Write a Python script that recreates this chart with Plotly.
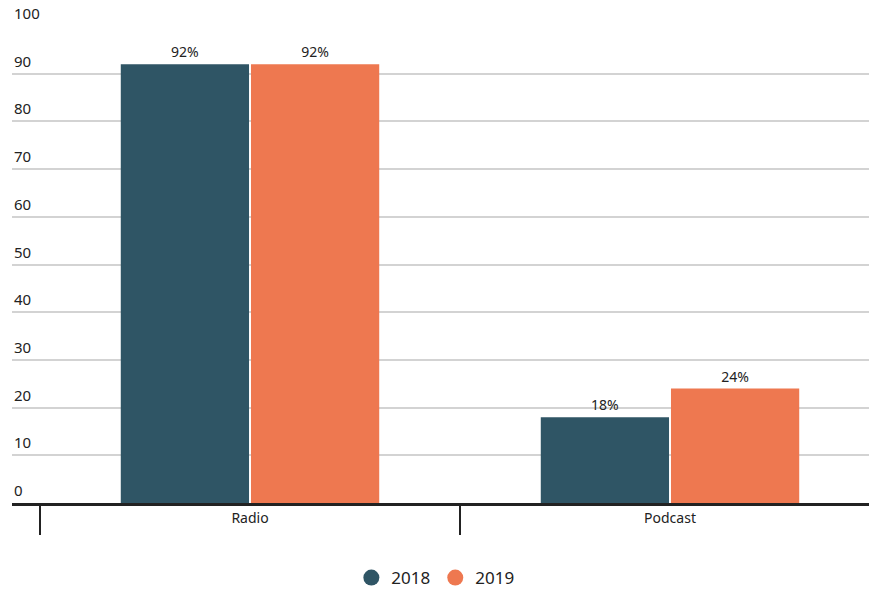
import plotly.graph_objects as go

categories = ["Radio", "Podcast"]
years = ["2018", "2019"]
values_2018 = [92, 18]
values_2019 = [92, 24]
colors = ["#2F5565", "#EE7850"]
y_ticks = [0, 10, 20, 30, 40, 50, 60, 70, 80, 90, 100]

FONT = "Noto Sans"
x_idx = list(range(len(categories)))

W, H = 869, 589
L, R, T, B = 12, 0, 26, 86
PH = H - T - B

fig = go.Figure()
for name, vals, col in zip(years, [values_2018, values_2019], colors):
    fig.add_trace(go.Bar(
        x=x_idx, y=vals, name=name, marker_color=col, marker_line_width=0,
        texttemplate="%{y}%", textposition="outside", cliponaxis=False,
        textfont=dict(family=FONT, size=14, color="#222222"),
        showlegend=False,
    ))
    fig.add_trace(go.Scatter(
        x=[None], y=[None], mode="markers", name=name,
        marker=dict(color=col, size=20, symbol="circle"),
    ))

# category divider ticks
for b in [-0.5, 0.5]:
    fig.add_shape(type="line", xref="x", yref="paper", x0=b, x1=b,
                  y0=0, y1=-32 / PH, line=dict(color="#222222", width=2))

# y tick labels placed above gridlines
for t in y_ticks:
    fig.add_annotation(x=0, xref="paper", xanchor="left", y=t, yref="y",
                       yanchor="bottom", yshift=1, text=str(t), showarrow=False,
                       font=dict(family=FONT, size=15, color="#222222"))

# x range so that category centres sit 420px apart
px_per_cat = 420.0
c0 = 250 - L  # Radio centre in plot coordinates
x_lo = -c0 / px_per_cat
x_hi = x_lo + (W - L - R) / px_per_cat

fig.update_layout(
    width=W, height=H,
    margin=dict(l=L, r=R, t=T, b=B, autoexpand=False),
    paper_bgcolor="white", plot_bgcolor="white",
    barmode="group", bargap=0.38, bargroupgap=0.015,
    font=dict(family=FONT, color="#222222"),
    legend=dict(orientation="h", x=0.494, xanchor="center", y=-75 / PH,
                yanchor="middle", font=dict(size=17, color="#222222"),
                itemsizing="trace"),
    xaxis=dict(range=[x_lo, x_hi], tickvals=x_idx, ticktext=categories,
               showgrid=False, zeroline=False, showline=True, automargin=False,
               linecolor="#222222", linewidth=3, ticks="",
               tickfont=dict(size=14, color="#222222")),
    yaxis=dict(range=[0, 100], tickvals=y_ticks, showgrid=True,
               gridcolor="#d3d3d3", gridwidth=2, zeroline=False,
               showticklabels=False, ticks="", automargin=False),
)

fig.write_html("out.html",
               config={"displayModeBar": False},
               post_script="document.body.style.margin='0';document.body.style.overflow='hidden';")
